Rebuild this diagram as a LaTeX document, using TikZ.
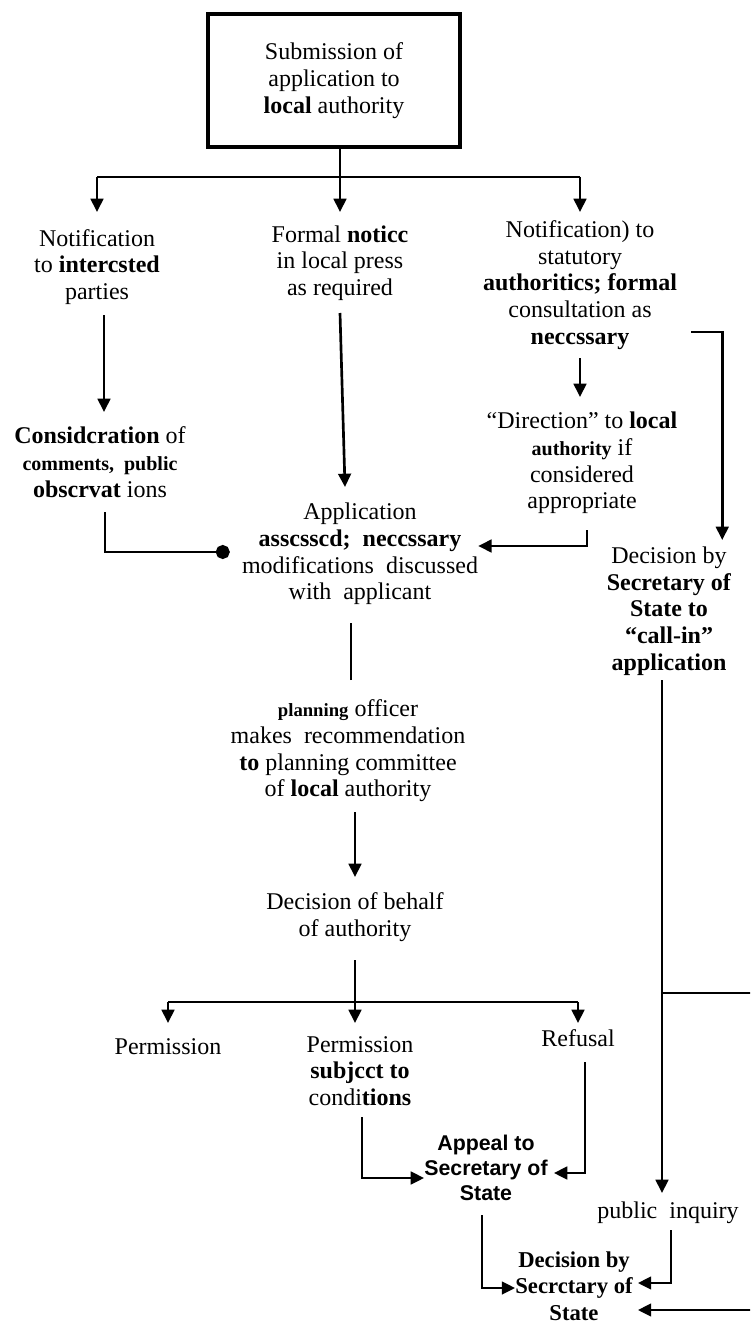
\documentclass[tikz,border=0pt]{standalone}
\usepackage{fontspec}
\setmainfont{Liberation Serif}
\setsansfont{Liberation Sans}
\usetikzlibrary{arrows.meta,calc}

\begin{document}
\begin{tikzpicture}[x=0.75pt,y=-0.75pt]
            \tikzstyle{every node}+=[inner sep=0pt, align=center, font=\fontsize{18}{20}\selectfont]
            \tikzstyle{flow}=[black, line width=2pt]
            \tikzstyle{flowarr}=[flow, -{Triangle[length=10pt,width=9.5pt]}]
            \tikzstyle{sansbox}=[font=\fontsize{16}{19}\selectfont\sffamily\bfseries]
            \tikzstyle{boldbox}=[font=\fontsize{17}{20}\selectfont\bfseries]
            \useasboundingbox (0,0) rectangle (750,1323);
            \clip (0,0) rectangle (750,1323);
            % stages
            \node [draw, line width=2.4pt, minimum width=189pt, minimum height=99.75pt] (submit) at (334,80.5) {Submission of\\application to\\\textbf{local} authority};
            \node (notify) at (97,267) {Notification\\to \textbf{intercsted}\\parties};
            \node (press) at (340,263) {Formal \textbf{noticc}\\in local press\\as required};
            \node (statut) at (580,285) {Notification) to\\statutory\\\textbf{authoritics; formal}\\consultation as\\\textbf{neccssary}};
            \node (consider) at (100,462) {\textbf{Considcration} of\\\textbf{\fontsize{15}{20}\selectfont comments,\ \ public}\\\textbf{obscrvat} ions};
            \node (direct) at (582,463) {“Direction” to \textbf{local}\\\textbf{\fontsize{15}{20}\selectfont authority} if\\considered\\appropriate};
            \node (assess) at (360,554) {Application\\\textbf{asscsscd;\ \ neccssary}\\modifications\ \ discussed\\with\ \ applicant};
            \node (callin) at (669,611) {Decision by\\\textbf{Secretary of}\\\textbf{State to}\\\textbf{“call-in”}\\\textbf{application}};
            \node (officer) at (348,751) {\textbf{\fontsize{14}{20}\selectfont planning} officer\\makes\ \ recommendation\\\textbf{to} planning committee\\of \textbf{local} authority};
            \node (decide) at (355,917) {Decision of behalf\\of authority};
            \node (grant) at (168,1047) {Permission};
            \node (grantcond) at (360,1071) {Permission\\\textbf{subjcct to}\\condi\textbf{tions}};
            \node (refuse) at (578,1038) {Refusal};
            \node [sansbox] (appeal) at (486,1168) {Appeal to\\Secretary of\\State};
            \node (inquiry) at (668,1213) {public\ \ inquiry};
            \node [boldbox] (final) at (574,1286) {Decision by\\Secrctary of\\State};
            % fan out from the submission
            \coordinate (fan) at (340,177);
            \draw [flow] (submit.south -| fan) -- (fan);
            \draw [flow] (notify |- fan) -- (statut |- fan);
            \draw [flowarr] (notify |- fan) -- (notify |- 0,212);
            \draw [flowarr] (fan) -- (fan |- 0,212);
            \draw [flowarr] (statut |- fan) -- (statut |- 0,212);
            % left column
            \draw [flowarr] ($(notify |- 0,315)+(7,0)$) -- ($(consider |- 0,412)+(4,0)$);
            \draw [flow, -{Circle[length=10.5pt]}] ($(consider |- 0,512)+(5,0)$) |- ($(assess.west |- 0,552)+(-12,0)$);
            % middle and right columns
            \draw [flowarr] (press |- 0,313) -- ($(assess |- 0,487)+(-15,0)$);
            \draw [flowarr] (statut |- 0,358) -- (statut |- 0,397);
            \draw [flowarr] ($(direct |- 0,530)+(5,0)$) |- (assess.east |- 0,546);
            \draw [flowarr] ($(statut.east |- 0,332)+(14,0)$) -- ++(31,0) -- ++(0,208);
            \draw [flow, line width=1.4pt] ($(officer |- 0,680)+(3,0)$) -- ($(officer |- 0,623)+(3,0)$);
            \draw [flowarr] (decide |- 0,812) -- (decide |- 0,877);
            % fan out from the decision
            \coordinate (fan2) at (355,1002);
            \draw [flow] (decide |- 0,960) -- (fan2);
            \draw [flow] (grant |- fan2) -- (refuse |- fan2);
            \draw [flowarr] (grant |- fan2) -- (grant |- 0,1023);
            \draw [flowarr] (fan2) -- (fan2 |- 0,1023);
            \draw [flowarr] (refuse |- fan2) -- (refuse |- 0,1023);
            % appeals
            \draw [flowarr] ($(grantcond |- 0,1117)+(2,0)$) |- (appeal.west |- 0,1178);
            \draw [flowarr] ($(refuse |- 0,1062)+(7,0)$) |- ($(appeal.east |- 0,1173)+(6,0)$);
            \draw [flowarr] ($(appeal |- 0,1215)+(-4,0)$) |- (final.west |- 0,1288);
            \draw [flowarr] ($(inquiry |- 0,1230)+(3,0)$) |- ($(final.east |- 0,1283)+(5,0)$);
            % call-in route
            \coordinate (branch) at (662,993);
            \draw [flowarr] ($(callin |- 0,680)+(-7,0)$) -- ($(inquiry |- 0,1193)+(-6,0)$);
            \draw [flowarr] (branch) -- ++(100,0) |- ($(final.east |- 0,1310)+(5,0)$);
\end{tikzpicture}
\end{document}
